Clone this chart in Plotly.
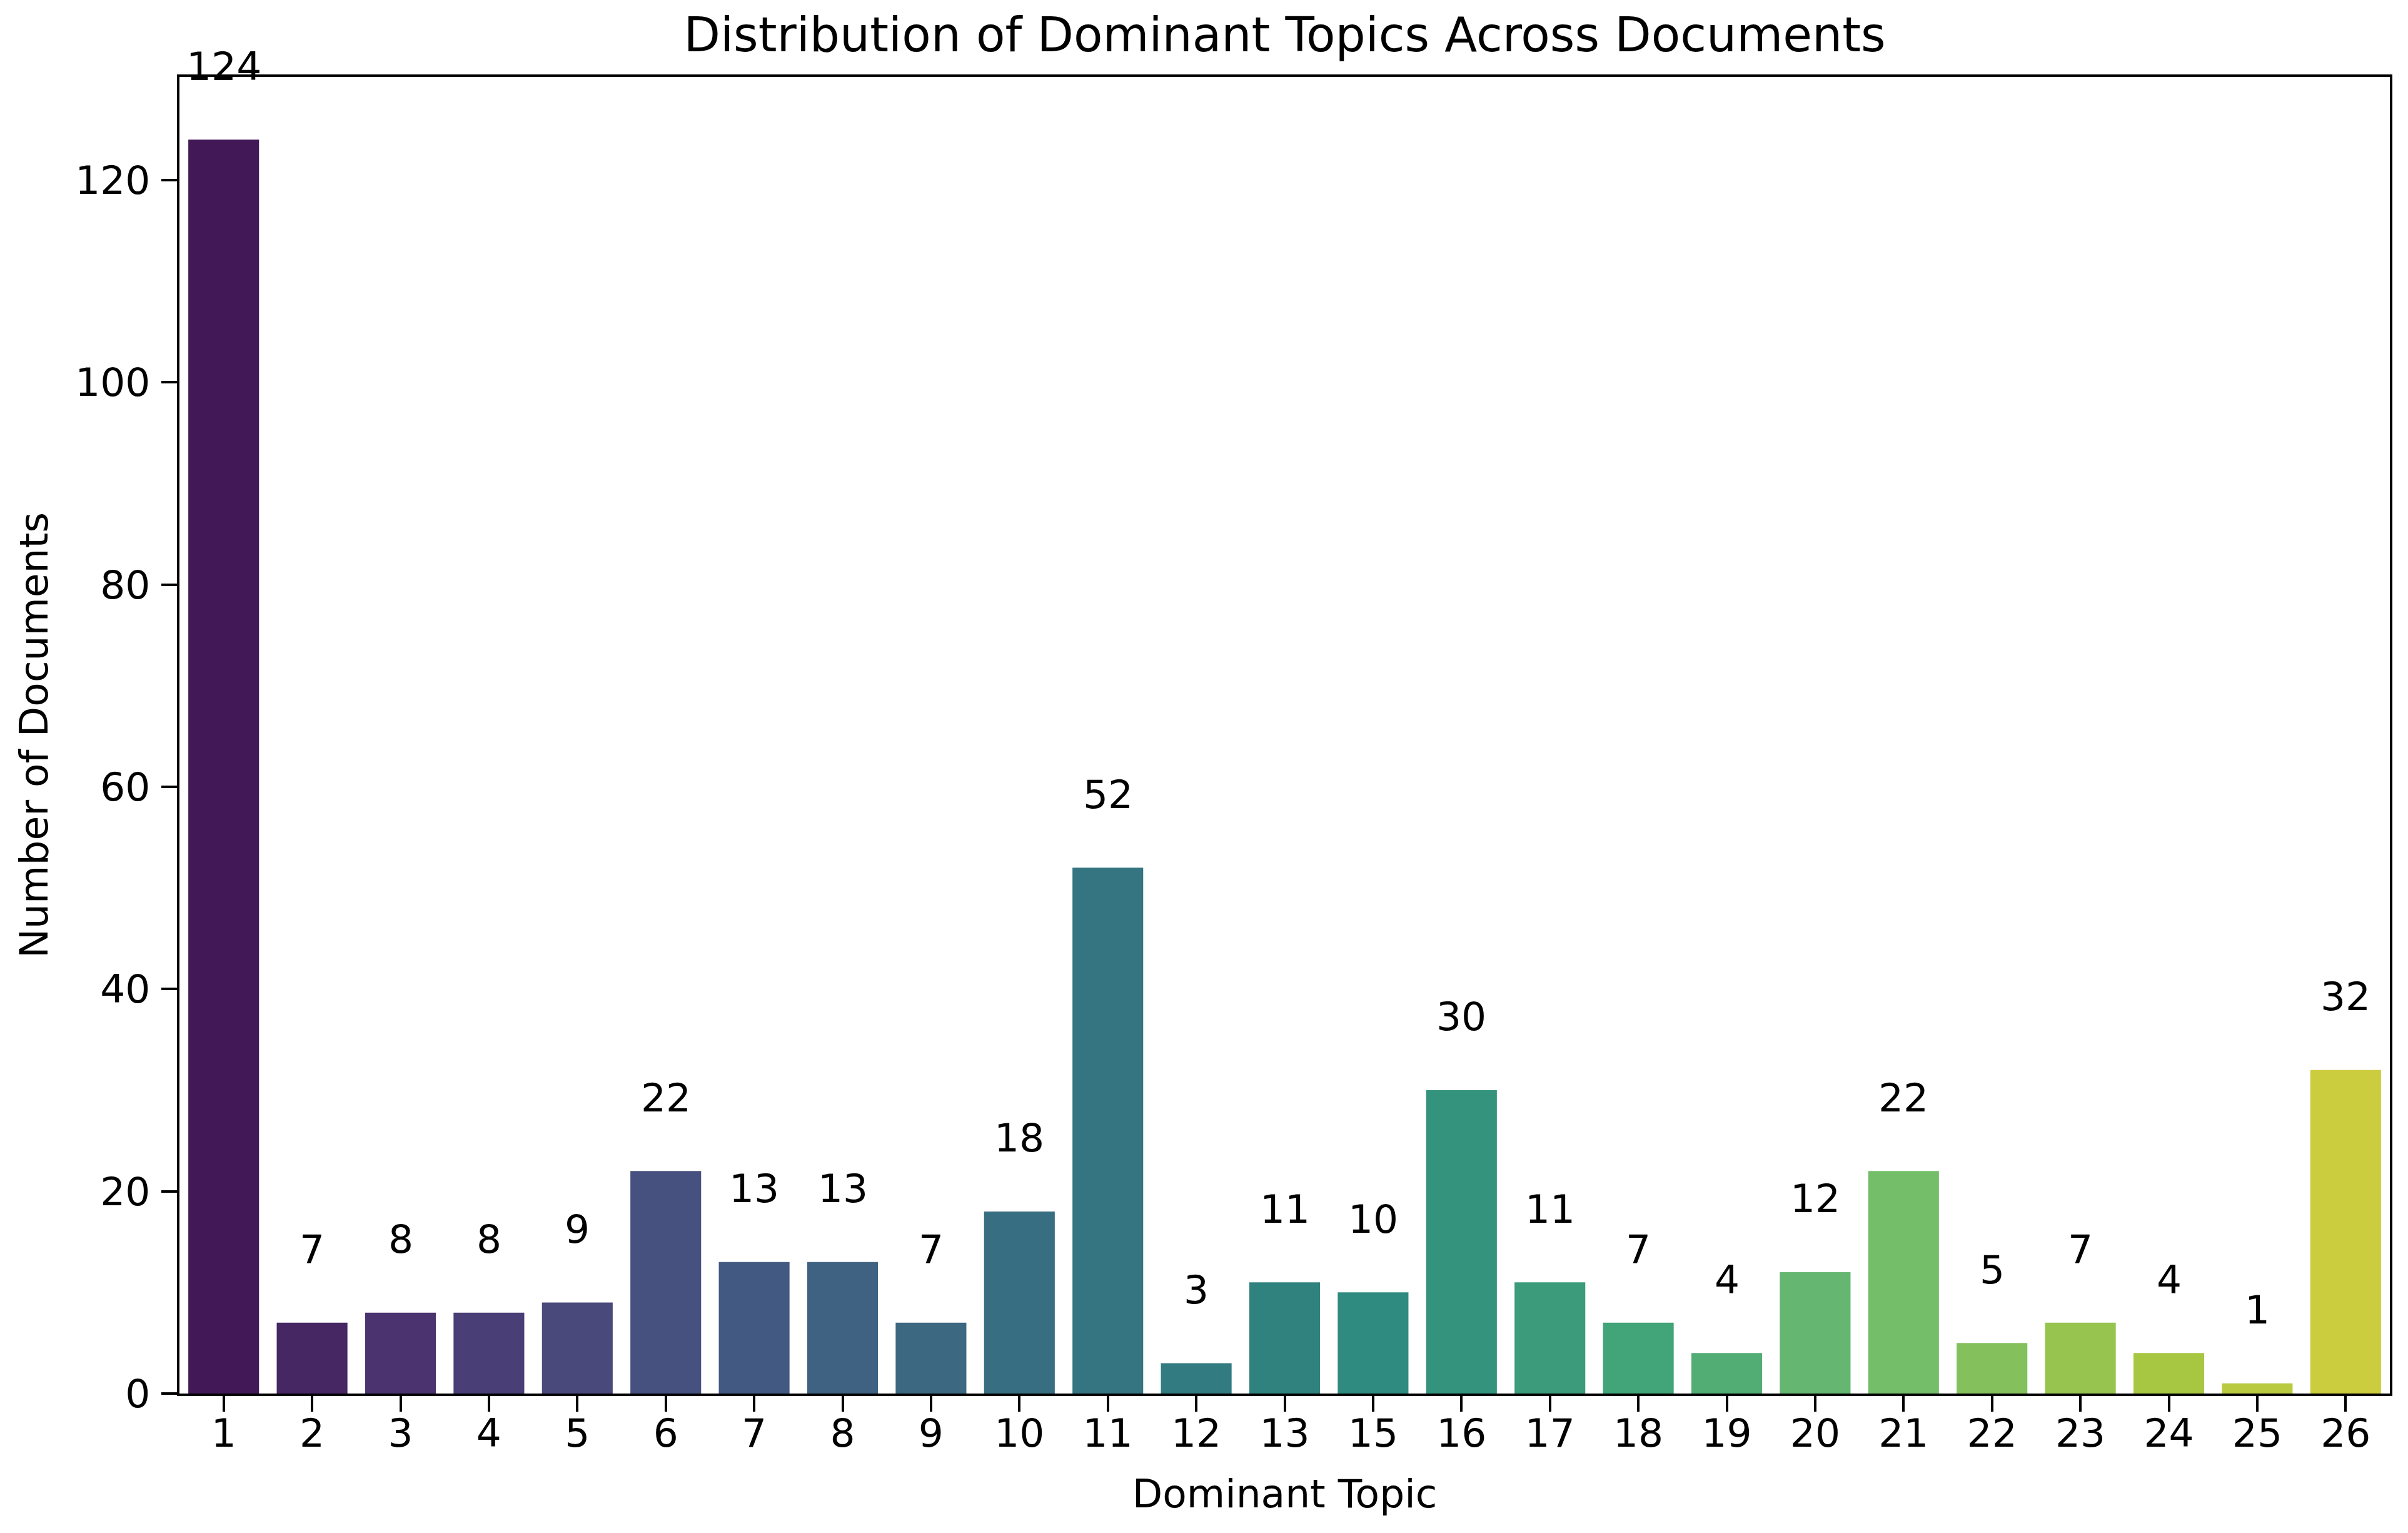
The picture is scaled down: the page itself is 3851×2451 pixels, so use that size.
import colorsys
import plotly.graph_objects as go
from plotly.colors import sample_colorscale, unlabel_rgb
import plotly.express as px

# ---- data ----
topics = ["1", "2", "3", "4", "5", "6", "7", "8", "9", "10", "11", "12", "13",
          "15", "16", "17", "18", "19", "20", "21", "22", "23", "24", "25", "26"]
counts = [124, 7, 8, 8, 9, 22, 13, 13, 7, 18, 52, 3, 11,
          10, 30, 11, 7, 4, 12, 22, 5, 7, 4, 1, 32]
y_ticks = [0, 20, 40, 60, 80, 100, 120]

title_text = "Distribution of Dominant Topics Across Documents"
x_title = "Dominant Topic"
y_title = "Number of Documents"

# ---- colours: seaborn-like viridis palette, desaturated to 0.75 ----
n = len(topics)
positions = [(i + 1) / (n + 1) for i in range(n)]
raw = sample_colorscale(px.colors.sequential.Viridis, positions, colortype="rgb")


def desat(c, prop=0.75):
    r, g, b = [v / 255.0 for v in unlabel_rgb(c)]
    h, l, s = colorsys.rgb_to_hls(r, g, b)
    r, g, b = colorsys.hls_to_rgb(h, l, s * prop)
    return "rgb(%d,%d,%d)" % (round(r * 255), round(g * 255), round(b * 255))


colors = [desat(c) for c in raw]

FONT = "DejaVu Sans"
FS = 63
W, H = 3851, 2451
ML, MR, MT, MB = 287, 29, 123, 223

fig = go.Figure(
    go.Bar(
        x=topics,
        y=counts,
        marker=dict(color=colors, line=dict(width=0)),
        showlegend=False,
    )
)

for i, c in enumerate(counts):
    fig.add_annotation(
        x=i, y=c, text=str(c), showarrow=False,
        xanchor="center", yanchor="middle", yshift=117,
        font=dict(family=FONT, size=FS, color="black"),
    )

fig.update_layout(
    width=W, height=H,
    margin=dict(l=ML, r=MR, t=MT, b=MB, pad=0),
    paper_bgcolor="white", plot_bgcolor="white",
    bargap=0.2,
    font=dict(family=FONT, size=FS, color="black"),
    title=dict(
        text=title_text, x=(ML + (W - MR)) / 2 / W, xanchor="center",
        y=1 - 55 / H, yanchor="middle", yref="container",
        font=dict(family=FONT, size=76, color="black"),
    ),
)

fig.update_xaxes(
    type="category", range=[-0.5, n - 0.5],
    showline=True, linecolor="black", linewidth=4, mirror=True,
    ticks="outside", ticklen=25, tickwidth=4, tickcolor="black",
    ticklabelstandoff=-20,
    showgrid=False, zeroline=False,
    tickfont=dict(family=FONT, size=FS, color="black"),
    title=dict(text=x_title, standoff=40, font=dict(family=FONT, size=FS, color="black")),
    automargin=False,
)
fig.update_yaxes(
    range=[0, 130.2], tickvals=y_ticks,
    showline=True, linecolor="black", linewidth=4, mirror=True,
    ticks="outside", ticklen=25, tickwidth=4, tickcolor="black",
    ticklabelstandoff=5,
    showgrid=False, zeroline=False,
    tickfont=dict(family=FONT, size=FS, color="black"),
    title=dict(text=y_title, standoff=24, font=dict(family=FONT, size=FS, color="black")),
    automargin=False,
)

fig.write_html(
    "out.html",
    config={"displayModeBar": False},
    post_script="document.body.style.margin='0px';",
)
